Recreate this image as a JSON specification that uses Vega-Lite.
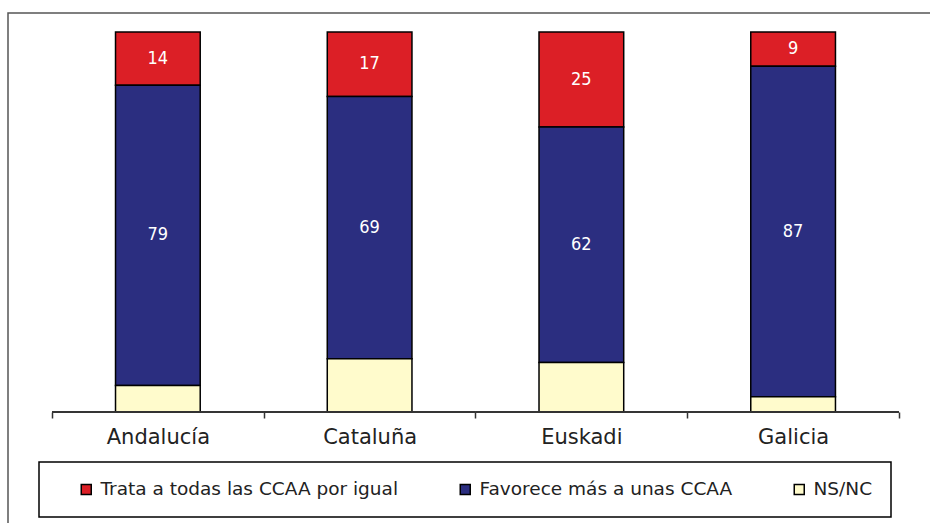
{
  "$schema": "https://vega.github.io/schema/vega-lite/v6.json",
  "width": 930,
  "height": 520,
  "autosize": {"type": "none"},
  "padding": {"left": 8, "top": 13, "right": 0, "bottom": 0},
  "background": "white",
  "config": {
    "view": {"stroke": "#555555", "strokeWidth": 1.5},
    "font": "DejaVu Sans Condensed, Open Sans, sans-serif",
    "legend": {"strokeWidth": 1.5}
  },
  "data": {
    "values": [
      {"region": "Andalucía", "cat": "Trata a todas las CCAA por igual", "order": 3, "value": 14},
      {"region": "Andalucía", "cat": "Favorece más a unas CCAA", "order": 2, "value": 79},
      {"region": "Andalucía", "cat": "NS/NC", "order": 1, "value": 7},
      {"region": "Cataluña", "cat": "Trata a todas las CCAA por igual", "order": 3, "value": 17},
      {"region": "Cataluña", "cat": "Favorece más a unas CCAA", "order": 2, "value": 69},
      {"region": "Cataluña", "cat": "NS/NC", "order": 1, "value": 14},
      {"region": "Euskadi", "cat": "Trata a todas las CCAA por igual", "order": 3, "value": 25},
      {"region": "Euskadi", "cat": "Favorece más a unas CCAA", "order": 2, "value": 62},
      {"region": "Euskadi", "cat": "NS/NC", "order": 1, "value": 13},
      {"region": "Galicia", "cat": "Trata a todas las CCAA por igual", "order": 3, "value": 9},
      {"region": "Galicia", "cat": "Favorece más a unas CCAA", "order": 2, "value": 87},
      {"region": "Galicia", "cat": "NS/NC", "order": 1, "value": 4}
    ]
  },
  "transform": [
    {"stack": "value", "groupby": ["region"], "sort": [{"field": "order", "order": "ascending"}], "as": ["y0", "y1"]},
    {"calculate": "(datum.y0 + datum.y1) / 2", "as": "mid"}
  ],
  "encoding": {
    "x": {
      "field": "region",
      "type": "nominal",
      "sort": ["Andalucía", "Cataluña", "Euskadi", "Galicia"],
      "scale": {"paddingInner": 0, "paddingOuter": 0.196, "align": 0.53},
      "axis": {
        "title": null,
        "domain": false,
        "ticks": true,
        "tickBand": "extent",
        "tickSize": 6,
        "tickColor": "#333333",
        "tickWidth": 1.5,
        "labelAngle": 0,
        "labelFont": "DejaVu Sans",
        "labelFontSize": 21,
        "labelColor": "#222222",
        "labelPadding": 8,
        "offset": -121,
        "grid": false
      }
    }
  },
  "layer": [
    {
      "mark": {"type": "bar", "width": {"band": 0.4}, "stroke": "black", "strokeWidth": 1.5},
      "encoding": {
        "y": {"field": "y1", "type": "quantitative", "scale": {"domain": [-31.84, 105], "nice": false, "zero": false}, "axis": null},
        "y2": {"field": "y0"},
        "color": {
          "field": "cat",
          "type": "nominal",
          "scale": {
            "domain": ["Trata a todas las CCAA por igual", "Favorece más a unas CCAA", "NS/NC"],
            "range": ["#DC1F26", "#2B2E80", "#FFFBCC"]
          },
          "legend": {
            "orient": "none",
            "legendX": 31,
            "legendY": 449,
            "direction": "horizontal",
            "title": null,
            "strokeColor": "black",
            "padding": 18,
            "symbolType": "square",
            "symbolSize": 100,
            "symbolStrokeColor": "black",
            "symbolStrokeWidth": 1.5,
            "symbolOpacity": 1,
            "labelFont": "DejaVu Sans",
            "labelFontSize": 18.5,
            "labelColor": "#222222",
            "symbolOffset": 20,
            "labelOffset": 5,
            "columnPadding": 37,
            "labelLimit": 0
          }
        }
      }
    },
    {
      "transform": [{"filter": "datum.cat !== 'NS/NC'"}],
      "mark": {"type": "text", "color": "white", "fontSize": 18},
      "encoding": {
        "y": {"field": "mid", "type": "quantitative"},
        "text": {"field": "value", "type": "quantitative"}
      }
    },
    {
      "mark": {"type": "bar", "width": {"band": 1}, "fill": "transparent", "stroke": "#333333", "strokeWidth": 1.5},
      "encoding": {
        "y": {"datum": 0},
        "y2": {"datum": 0}
      }
    }
  ]
}
